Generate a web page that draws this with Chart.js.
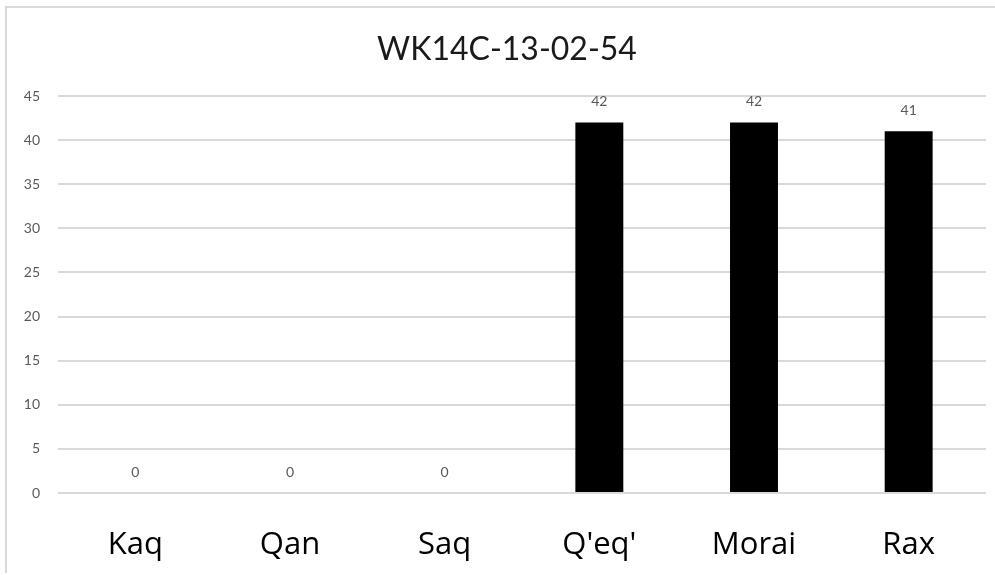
<!DOCTYPE html>
<html>
<head>
<meta charset="utf-8">
<script src="https://cdn.jsdelivr.net/npm/chart.js@4"></script>
<style>
  html, body { margin: 0; padding: 0; background: #fff; }
  #wrap { position: absolute; left: 0; top: 0; width: 995px; height: 575px; }
</style>
</head>
<body>
<div id="wrap"><canvas id="barChart"></canvas></div>
<script>
"use strict";
const chartTitle = 'WK14C-13-02-54';
const categories = ['Kaq', 'Qan', 'Saq', "Q'eq'", 'Morai', 'Rax'];
const counts = [0, 0, 0, 42, 42, 41];
const yTicks = [0, 5, 10, 15, 20, 25, 30, 35, 40, 45];

// frame lines like the original sheet border, plus the title
// (title sits a bit right of centre in the original, so it is drawn by hand)
const framePlugin = {
    id: 'frame',
    beforeDraw(chart) {
        const ctx = chart.ctx;
        ctx.save();
        ctx.fillStyle = '#fff';
        ctx.fillRect(0, 0, chart.width, chart.height);
        ctx.strokeStyle = '#d9d9d9';
        ctx.lineWidth = 2;
        ctx.beginPath();
        ctx.moveTo(6, 573);
        ctx.lineTo(6, 7);
        ctx.lineTo(chart.width, 7);
        ctx.stroke();
        ctx.font = '32px Lato';
        ctx.fillStyle = '#1a1a1a';
        ctx.textAlign = 'center';
        ctx.textBaseline = 'alphabetic';
        ctx.fillText(chartTitle, 507, 60);
        ctx.restore();
    }
};

// value labels above each bar
const valueLabels = {
    id: 'valueLabels',
    afterDatasetsDraw(chart) {
        const ctx = chart.ctx;
        const meta = chart.getDatasetMeta(0);
        ctx.save();
        ctx.font = '14px Lato';
        ctx.fillStyle = '#595959';
        ctx.textAlign = 'center';
        ctx.textBaseline = 'middle';
        meta.data.forEach((bar, i) => {
            ctx.fillText(String(counts[i]), bar.x, bar.y - 21);
        });
        ctx.restore();
    }
};

document.addEventListener('DOMContentLoaded', () => {
    const ctx = document.getElementById('barChart').getContext('2d');
    new Chart(ctx, {
        type: 'bar',
        data: {
            labels: categories,
            datasets: [{
                data: counts,
                backgroundColor: '#000',
                borderWidth: 0,
                categoryPercentage: 1,
                barPercentage: 0.31,
            }],
        },
        options: {
            responsive: true,
            maintainAspectRatio: false,
            animation: false,
            layout: { padding: { top: 96, right: 9, left: 0, bottom: 0 } },
            plugins: {
                legend: { display: false },
                tooltip: { enabled: false },
                title: { display: false },
            },
            scales: {
                x: {
                    grid: { display: false, drawTicks: false, tickLength: 0 },
                    border: { display: false },
                    ticks: {
                        color: '#000',
                        font: { family: 'Open Sans', size: 31 },
                        padding: 34,
                        maxRotation: 0,
                    },
                    afterFit(scale) { scale.height = 82; },
                },
                y: {
                    min: 0,
                    max: 45,
                    afterBuildTicks(scale) { scale.ticks = yTicks.map(v => ({ value: v })); },
                    grid: { color: '#d9d9d9', lineWidth: 2, drawTicks: false, tickLength: 0 },
                    border: { display: false },
                    ticks: {
                        color: '#595959',
                        font: { family: 'Lato', size: 14 },
                        padding: 18,
                    },
                    afterFit(scale) { scale.width = 58; },
                },
            },
        },
        plugins: [framePlugin, valueLabels],
    });
});
</script>
</body>
</html>
